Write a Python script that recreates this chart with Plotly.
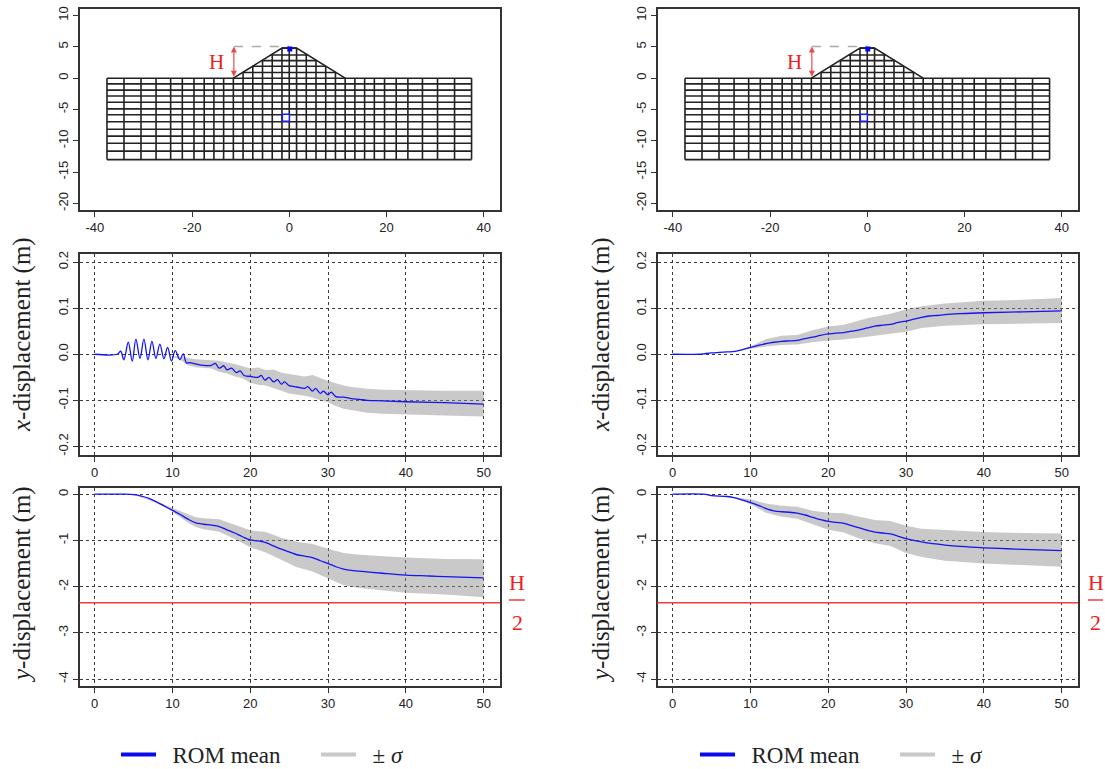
import plotly.graph_objects as go

W, H = 1105, 769
BLUE = "#1414f5"
GREY = "rgba(140,140,140,0.47)"
RED = "#f23c3c"
FRAME = "#333333"
GRID = "#3a3a3a"
SANS = "Liberation Sans"
SERIF = "Liberation Serif"

# ---------- mesh (model coordinates, m) ----------
mesh_x_half = [0, 1.5, 3.5, 5.5, 7.5, 9.5, 11.5, 13.5, 15.5, 17.5, 19.6, 22, 24.4, 27.4, 30.5, 34, 37.5]
mesh_y_found = [0, -0.9, -1.9, -2.85, -3.85, -4.9, -5.85, -6.95, -8.15, -9.25, -10.4, -11.65, -13]
mesh_y_dam = [0.9, 1.9, 2.8, 3.7, 4.8]
dam_toe, dam_crest, dam_height = 11.5, 1.5, 4.8
sensor_top = (0.1, 4.65)
sensor_mid = (-0.7, -6.3)
h_x, h_top = -11.4, 5.05

# ---------- x-displacement, left column ----------
t_xl = [0, 2.9, 3.34, 3.76, 4.32, 4.83, 5.3, 5.82, 6.33, 6.85, 7.36, 7.87, 8.38, 8.9, 9.37, 9.88, 10.35, 10.95, 11.38,
        11.8, 12.2, 13, 14, 15, 15.5, 16, 16.6, 17, 17.6, 18.2, 18.7, 19.2, 20, 21, 21.4, 21.9, 22.4, 23, 23.5, 24,
        24.4, 25, 26, 27, 27.4, 28, 28.4, 29, 29.4, 30, 30.4, 31, 32, 33, 34, 35, 37, 40, 45, 50]
xl_mean = [0, 0, .0065, -.012, .026, -.015, .033, -.009, .033, -.012, .028, -.009, .022, -.01, .015, -.015, .008, -.012,
           .001, -.019, -.018, -.021, -.024, -.024, -.02, -.03, -.025, -.034, -.03, -.04, -.036, -.046, -.048, -.05,
           -.046, -.056, -.05, -.06, -.055, -.065, -.06, -.068, -.071, -.074, -.07, -.08, -.074, -.085, -.08, -.088,
           -.082, -.092, -.093, -.096, -.098, -.1, -.101, -.103, -.105, -.108]
t_xl_band = [10, 11, 12, 13, 14, 15, 16, 17, 18, 19, 20, 21, 22, 23, 24, 25, 26, 27, 28, 29, 30, 31, 32, 33, 35, 37, 40, 45, 50]
xl_upper = [-.003, -.006, -.009, -.011, -.012, -.013, -.014, -.018, -.021, -.026, -.031, -.029, -.034, -.033, -.04, -.043,
            -.046, -.048, -.045, -.052, -.058, -.063, -.068, -.071, -.075, -.077, -.078, -.079, -.079]
xl_lower = [-.006, -.012, -.024, -.028, -.03, -.031, -.038, -.042, -.048, -.052, -.062, -.066, -.068, -.074, -.079, -.085,
            -.087, -.09, -.094, -.1, -.104, -.112, -.118, -.122, -.127, -.129, -.131, -.133, -.135]

# ---------- x-displacement, right column ----------
t_xr = [0, 3.5, 4, 5, 6, 7, 8, 9, 10, 11, 12, 13, 14, 15, 16, 17, 18, 19, 20, 21, 22, 23, 24, 25, 26, 27, 28, 29, 30, 31,
        32, 33, 34, 35, 37, 40, 45, 50]
xr_mean = [0, 0, .001, .003, .004, .005, .006, .01, .015, .019, .023, .026, .028, .029, .03, .034, .037, .041, .044, .046,
           .047, .05, .053, .057, .061, .063, .065, .069, .072, .076, .08, .083, .084, .086, .088, .09, .092, .094]
t_xr_band = [8, 10, 12, 14, 16, 18, 20, 22, 25, 28, 30, 32, 35, 40, 45, 50]
xr_upper = [.006, .017, .033, .04, .042, .052, .06, .064, .078, .088, .097, .104, .11, .116, .118, .122]
xr_lower = [.006, .012, .017, .02, .021, .026, .03, .032, .038, .044, .049, .057, .062, .065, .067, .068]

# ---------- y-displacement, left column ----------
t_yl = [0, 4, 5, 6, 7, 8, 9, 10, 11, 12, 13, 14, 15, 16, 17, 18, 19, 20, 21, 22, 23, 24, 25, 26, 27, 28, 29, 30, 31, 32, 33,
        35, 37, 40, 43, 46, 50]
yl_mean = [0, 0, -.01, -.04, -.09, -.17, -.26, -.35, -.44, -.54, -.62, -.65, -.67, -.7, -.77, -.84, -.92, -.99, -1.01, -1.05,
           -1.12, -1.19, -1.25, -1.31, -1.34, -1.37, -1.44, -1.5, -1.57, -1.62, -1.65, -1.68, -1.71, -1.75, -1.77, -1.79, -1.81]
t_yl_band = [5, 8, 10, 12, 13, 14, 16, 18, 20, 22, 24, 26, 28, 30, 32, 34, 37, 40, 45, 50]
yl_upper = [-.01, -.15, -.3, -.44, -.5, -.52, -.54, -.66, -.78, -.82, -.94, -1.03, -1.08, -1.18, -1.27, -1.31, -1.34, -1.37, -1.4, -1.41]
yl_lower = [-.01, -.19, -.38, -.62, -.71, -.76, -.81, -.97, -1.15, -1.26, -1.42, -1.58, -1.67, -1.82, -1.97, -2.03, -2.08, -2.13, -2.17, -2.23]

# ---------- y-displacement, right column ----------
t_yr = [0, 4, 5, 7, 8, 9, 10, 11, 12, 13, 14, 15, 16, 17, 18, 19, 20, 21, 22, 23, 24, 25, 26, 27, 28, 29, 30, 31, 32, 33, 35,
        37, 40, 43, 46, 50]
yr_mean = [0, 0, -.03, -.05, -.08, -.13, -.18, -.24, -.31, -.36, -.38, -.39, -.41, -.45, -.5, -.55, -.59, -.61, -.63, -.68, -.73,
           -.78, -.82, -.84, -.86, -.91, -.96, -1.0, -1.03, -1.06, -1.1, -1.13, -1.16, -1.18, -1.2, -1.22]
t_yr_band = [7, 8, 10, 12, 14, 16, 18, 20, 22, 24, 26, 28, 30, 32, 35, 40, 45, 50]
yr_upper = [-.05, -.07, -.11, -.2, -.25, -.27, -.36, -.4, -.41, -.49, -.56, -.58, -.68, -.75, -.78, -.82, -.84, -.85]
yr_lower = [-.05, -.09, -.22, -.4, -.49, -.53, -.65, -.77, -.83, -.96, -1.06, -1.12, -1.27, -1.36, -1.44, -1.5, -1.54, -1.57]

half_height = -2.35

# ---------- axes ----------
mesh_xticks = [-40, -20, 0, 20, 40]
mesh_xlabels = ["-40", "-20", "0", "20", "40"]
mesh_yticks = [10, 5, 0, -5, -10, -15, -20]
mesh_ylabels = ["10", "5", "0", "-5", "-10", "-15", "-20"]
time_ticks = [0, 10, 20, 30, 40, 50]
xdisp_ticks = [0.2, 0.1, 0.0, -0.1, -0.2]
xdisp_labels = ["0.2", "0.1", "0.0", "-0.1", "-0.2"]
ydisp_ticks = [0, -1, -2, -3, -4]
ydisp_labels = ["0", "-1", "-2", "-3", "-4"]

col_px = [(79.5, 500), (657.5, 1078)]
row_px = [(9, 210), (253.5, 455), (487.5, 686)]


def dom_x(a):
    return [a[0] / W, a[1] / W]


def dom_y(a):
    return [1 - a[1] / H, 1 - a[0] / H]


def mesh_segments():
    xs, ys = [], []
    verticals = sorted({s * v for v in mesh_x_half for s in (-1, 1)})
    for x in verticals:
        top = 0
        if abs(x) <= dam_toe:
            top = dam_height * min(1, (dam_toe - abs(x)) / (dam_toe - dam_crest))
        xs += [x, x, None]
        ys += [mesh_y_found[-1], top, None]
    for y in mesh_y_found:
        xs += [verticals[0], verticals[-1], None]
        ys += [y, y, None]
    for y in mesh_y_dam:
        half = dam_toe - y / dam_height * (dam_toe - dam_crest)
        xs += [-half, half, None]
        ys += [y, y, None]
    xs += [-dam_toe, -dam_crest, dam_crest, dam_toe]
    ys += [0, dam_height, dam_height, 0]
    return xs, ys


fig = go.Figure()
annotations = []
shapes = []


def ax_common():
    return dict(
        showline=True, mirror=True, linecolor=FRAME, linewidth=1.6, ticks="outside", ticklen=5,
        tickcolor=FRAME, tickwidth=1, zeroline=False,
        tickfont=dict(family=SANS, size=13, color="#222222"),
    )


def grid_opts():
    return dict(showgrid=True, griddash="dot", gridcolor=GRID, gridwidth=1)


layout = {}
series = [
    [(t_xl, xl_mean, t_xl_band, xl_upper, xl_lower), (t_yl, yl_mean, t_yl_band, yl_upper, yl_lower)],
    [(t_xr, xr_mean, t_xr_band, xr_upper, xr_lower), (t_yr, yr_mean, t_yr_band, yr_upper, yr_lower)],
]
label_x_px = [22, 601]
frac_x_px = [(509, 525), (1088, 1103)]
mx, my = mesh_segments()

n = 0
for c in range(2):
    # ---- mesh panel ----
    n += 1
    sx = "x" if n == 1 else f"x{n}"
    sy = "y" if n == 1 else f"y{n}"
    lx = "xaxis" if n == 1 else f"xaxis{n}"
    ly = "yaxis" if n == 1 else f"yaxis{n}"
    layout[lx] = dict(domain=dom_x(col_px[c]), anchor=sy, range=[-43.15, 43.35], tickvals=mesh_xticks, ticktext=mesh_xlabels,
                      showgrid=False, **ax_common())
    layout[ly] = dict(domain=dom_y(row_px[0]), anchor=sx, range=[-21.05, 11.05], tickvals=mesh_yticks, ticktext=mesh_ylabels,
                      tickangle=-90, showgrid=False, **ax_common())
    fig.add_trace(go.Scatter(x=mx, y=my, mode="lines", line=dict(color="#222222", width=1.6), xaxis=sx, yaxis=sy,
                             showlegend=False, hoverinfo="skip"))
    fig.add_trace(go.Scatter(x=[h_x, 0], y=[h_top, h_top], mode="lines", line=dict(color="#aaaaaa", width=1.5, dash="dash"),
                             xaxis=sx, yaxis=sy, showlegend=False, hoverinfo="skip"))
    fig.add_trace(go.Scatter(x=[sensor_top[0]], y=[sensor_top[1]], mode="markers",
                             marker=dict(symbol="square", size=5, color="#0000ff"), xaxis=sx, yaxis=sy,
                             showlegend=False, hoverinfo="skip"))
    fig.add_trace(go.Scatter(x=[sensor_mid[0]], y=[sensor_mid[1]], mode="markers",
                             marker=dict(symbol="square", size=7, color="white", line=dict(width=1.5, color="#1a1aff")),
                             xaxis=sx, yaxis=sy, showlegend=False, hoverinfo="skip"))
    annotations.append(dict(x=h_x, y=h_top, ax=h_x, ay=0, xref=sx, yref=sy, axref=sx, ayref=sy, text="", showarrow=True,
                            arrowside="end+start", arrowhead=2, arrowsize=1, arrowwidth=1.2, arrowcolor="#f04848"))
    annotations.append(dict(x=-15, y=2.55, xref=sx, yref=sy, text="H", showarrow=False, xanchor="center", yanchor="middle",
                            font=dict(family=SERIF, size=21, color="#f02020")))

    for r in range(2):
        n += 1
        sx = f"x{n}"
        sy = f"y{n}"
        t, mean, tb, up, lo = series[c][r]
        xa = dict(domain=dom_x(col_px[c]), anchor=sy, range=[-1.95, 52.1], tickvals=time_ticks, **grid_opts(), **ax_common())
        if r == 0:
            ya = dict(domain=dom_y(row_px[1]), anchor=sx, range=[-0.2185, 0.2185], tickvals=xdisp_ticks, ticktext=xdisp_labels,
                      tickangle=-90, **grid_opts(), **ax_common())
        else:
            ya = dict(domain=dom_y(row_px[2]), anchor=sx, range=[-4.15, 0.145], tickvals=ydisp_ticks, ticktext=ydisp_labels,
                      tickangle=-90, **grid_opts(), **ax_common())
        layout[f"xaxis{n}"] = xa
        layout[f"yaxis{n}"] = ya
        fig.add_trace(go.Scatter(x=tb + tb[::-1], y=up + lo[::-1], mode="lines", fill="toself", fillcolor=GREY,
                                 line=dict(width=0), xaxis=sx, yaxis=sy, showlegend=False, hoverinfo="skip"))
        fig.add_trace(go.Scatter(x=t, y=mean, mode="lines", line=dict(color=BLUE, width=1.3, shape="spline", smoothing=1.0),
                                 xaxis=sx, yaxis=sy, showlegend=False))
        name = "<i>x</i>-displacement (m)" if r == 0 else "<i>y</i>-displacement (m)"
        cy = 335 if r == 0 else 585
        annotations.append(dict(x=label_x_px[c] / W, y=1 - cy / H, xref="paper", yref="paper", text=name, showarrow=False,
                                xanchor="center", yanchor="middle",
                                textangle=-90, font=dict(family=SERIF, size=25, color="#222222")))
        if r == 1:
            shapes.append(dict(type="line", xref=f"{sx} domain", yref=sy, x0=0, x1=1, y0=half_height, y1=half_height,
                               line=dict(color=RED, width=1.6)))
            xc = sum(frac_x_px[c]) / 2
            for txt, py in (("H", 582), ("2", 622)):
                annotations.append(dict(x=xc / W, y=1 - py / H, xref="paper", yref="paper", text=txt, showarrow=False,
                                        xanchor="center", yanchor="middle",
                                        font=dict(family=SERIF, size=22, color="#f02020")))
            shapes.append(dict(type="line", xref="paper", yref="paper", x0=frac_x_px[c][0] / W, x1=frac_x_px[c][1] / W,
                               y0=1 - 600 / H, y1=1 - 600 / H, line=dict(color="#f02020", width=1.3)))

# ---------- legends ----------
legend_names = ["\u00a0\u00a0ROM mean", "\u00a0\u00a0\u00b1 <i>\u03c3</i>"]
legend_colors = ["#0a0aee", "#c8c8c8"]
for key, xpos in (("legend", 116 / W), ("legend2", 695 / W)):
    for nm, col in zip(legend_names, legend_colors):
        fig.add_trace(go.Scatter(x=[None], y=[None], mode="lines", name=nm, line=dict(color=col, width=4),
                                 xaxis="x2", yaxis="y2", legend=key, showlegend=True, hoverinfo="skip"))
    layout[key] = dict(orientation="h", x=xpos, y=1 - 733 / H, xanchor="left", yanchor="top", itemwidth=35,
                       entrywidth=150, entrywidthmode="pixels", bgcolor="rgba(0,0,0,0)",
                       font=dict(family=SERIF, size=23, color="#222222"))

fig.update_layout(width=W, height=H, margin=dict(l=0, r=0, t=0, b=0, autoexpand=False), paper_bgcolor="white", plot_bgcolor="white",
                  annotations=annotations, shapes=shapes, **layout)

fig.write_html("out.html", post_script="document.body.style.margin='0';", config={"displayModeBar": False})
